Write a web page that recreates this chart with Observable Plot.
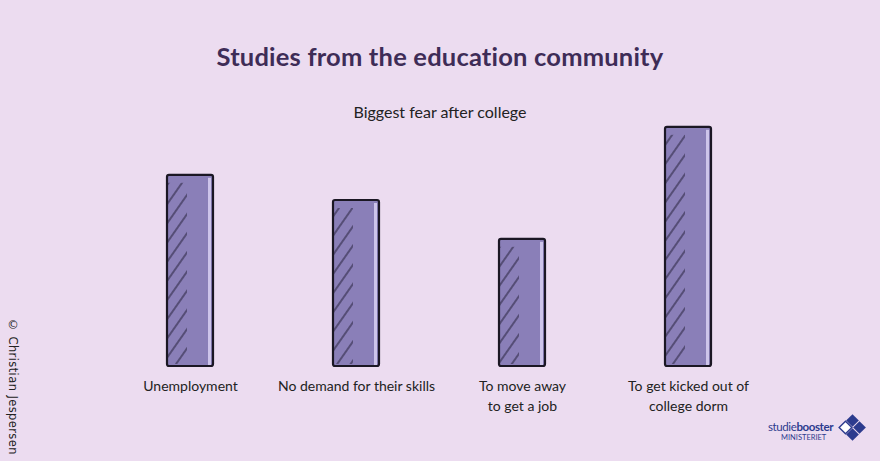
<!DOCTYPE html>
<html>
<head>
<meta charset="utf-8">
<script src="https://cdn.jsdelivr.net/npm/d3@7"></script>
<script src="https://cdn.jsdelivr.net/npm/@observablehq/plot@0.6"></script>
<style>
  html, body { margin: 0; padding: 0; background: #ecdcf0; }
  #wrap { position: relative; width: 880px; height: 461px; overflow: hidden; background: #ecdcf0; }
  #title { position: absolute; left: 0; width: 880px; top: 41px; text-align: center;
    font-family: Lato, "Open Sans", sans-serif; font-weight: 700; font-size: 25.5px; color: #3e2c57; letter-spacing: 0.2px; }
  #subtitle { position: absolute; left: 0; width: 880px; top: 102px; text-align: center;
    font-family: Lato, "Open Sans", sans-serif; font-size: 16px; color: #222; }
  #chart { position: absolute; left: 0; top: 0; }
  #copy { position: absolute; left: 6px; top: 318px; writing-mode: vertical-rl; white-space: nowrap;
    font-family: "DejaVu Sans", sans-serif; font-size: 11.5px; color: #222; letter-spacing: 0.4px; }
  #logo { position: absolute; left: 766px; top: 412px; }
</style>
</head>
<body>
<div id="wrap">
  <div id="chart"></div>
  <div id="title">Studies from the education community</div>
  <div id="subtitle">Biggest fear after college</div>
  <div id="copy">© Christian Jespersen</div>
  <div id="logo">
    <svg width="104" height="36" viewBox="0 0 104 36">
      <text x="2" y="19" font-family="Lato, sans-serif" font-size="11.5" fill="#2c3b8e" letter-spacing="-0.4">studie<tspan font-weight="700">booster</tspan></text>
      <text x="15" y="28" font-family="Lato, sans-serif" font-size="7.5" fill="#2c3b8e">MINISTERIET</text>
      <g fill="#2c3b8e">
        <rect x="82" y="4" width="9" height="9" transform="rotate(45 86.5 8.5)"/>
        <rect x="82" y="18" width="9" height="9" transform="rotate(45 86.5 22.5)"/>
        <rect x="89" y="11" width="9" height="9" transform="rotate(45 93.5 15.5)"/>
        <rect x="75" y="11" width="9" height="9" transform="rotate(45 79.5 15.5)" fill="#fff" stroke="#2c3b8e" stroke-width="1.4"/>
      </g>
    </svg>
  </div>
</div>
<script>
const categories = ["Unemployment", "No demand for their skills", "To move away\nto get a job", "To get kicked out of\ncollege dorm"];
const values = [47.8, 41.5, 31.8, 59.8];

const data = categories.map((c, i) => ({category: c, value: values[i]}));

const plot = Plot.plot({
  width: 880,
  height: 461,
  marginTop: 126,
  marginBottom: 95,
  marginLeft: 46,
  marginRight: 48,
  style: {background: "transparent", fontFamily: "Lato, 'Open Sans', sans-serif", color: "#222"},
  x: {domain: categories, padding: 0.72, label: null},
  y: {domain: [0, 60], axis: null},
  marks: [
    Plot.barY(data, {x: "category", y: "value", fill: "#8a7fb8"}),
    Plot.barY(data, {x: "category", y: "value", fill: "#cdc4ea", insetLeft: 41, insetRight: 2, insetTop: 3}),
    Plot.barY(data, {x: "category", y: "value", fill: "url(#hatch)", insetRight: 26, insetTop: 8, insetBottom: 2}),
    Plot.barY(data, {x: "category", y: "value", fill: "none", stroke: "#1b1724", strokeWidth: 2.2, rx: 2}),
    Plot.axisX({tickSize: 0, tickPadding: 10, fontSize: 14, lineHeight: 1.45, fill: "#222"})
  ]
});

const defs = d3.select(plot).insert("defs", ":first-child");
const pat = defs.append("pattern")
  .attr("id", "hatch")
  .attr("patternUnits", "userSpaceOnUse")
  .attr("width", 11)
  .attr("height", 11)
  .attr("patternTransform", "rotate(35)");
pat.append("line")
  .attr("x1", 1).attr("y1", 0).attr("x2", 1).attr("y2", 11)
  .attr("stroke", "#2a2340").attr("stroke-width", 1.1);

document.getElementById("chart").appendChild(plot);
</script>
</body>
</html>
